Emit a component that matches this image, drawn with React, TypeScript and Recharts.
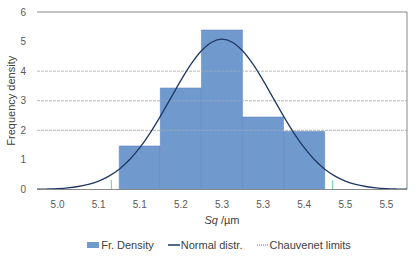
import React from 'react';
import { ComposedChart, Bar, Line, XAxis, YAxis, ReferenceLine, Legend } from 'recharts';

// Histogram categories (bin labels as shown) and frequency densities
const binLabels = ['5.0', '5.1', '5.1', '5.2', '5.3', '5.3', '5.4', '5.5', '5.5'];
const frDensity: (number | null)[] = [null, null, 1.47, 3.43, 5.39, 2.45, 1.96, null, null];

// Normal distribution curve (x in bin units from the left edge)
const curveX = [0, 0.25, 0.5, 0.75, 1, 1.25, 1.5, 1.75, 2, 2.25, 2.5, 2.75, 3, 3.25, 3.5, 3.75, 4, 4.25, 4.5,
  4.75, 5, 5.25, 5.5, 5.75, 6, 6.25, 6.5, 6.75, 7, 7.25, 7.5, 7.75, 8, 8.25, 8.5, 8.75, 9];
const curveY = [0.008, 0.016, 0.03, 0.056, 0.101, 0.173, 0.285, 0.452, 0.688, 1.005, 1.412, 1.907, 2.473, 3.081, 3.689, 4.243, 4.689, 4.979, 5.08,
  4.979, 4.689, 4.243, 3.689, 3.081, 2.473, 1.907, 1.412, 1.005, 0.688, 0.452, 0.285, 0.173, 0.101, 0.056, 0.03, 0.016, 0.008];

// Chauvenet limits
const chauvenetX = [1.81, 7.19];
const chauvenetTop = 0.32;

const yTicks = [0, 1, 2, 3, 4, 5, 6];
const gridValues = [2, 3, 4];
const boundaryTicks = [1, 3, 4, 6, 7, 9];
const xDomain: [number, number] = [0, 9];
const yDomain: [number, number] = [0, 6];
const legendLabels = ['Fr. Density', 'Normal distr.', 'Chauvenet limits'];

const BAR_COLOR = '#7099CE';
const LINE_COLOR = '#1F3864';
const GREEN = '#00B050';
const AXIS_COLOR = '#898989';

const barData = binLabels.map((label, i) => ({ label, density: frDensity[i] }));
const curveData = curveX.map((x, i) => ({ x, y: curveY[i] }));

const renderLegend = () => (
  <div
    style={{
      display: 'flex',
      justifyContent: 'center',
      alignItems: 'center',
      height: 20,
      lineHeight: '20px',
      paddingLeft: 31,
      fontSize: 11,
      color: '#404040',
      fontFamily: 'Liberation Sans, Arial, sans-serif',
    }}
  >
    {legendLabels.map((lab, i) => (
      <div key={lab} style={{ display: 'flex', alignItems: 'center', marginLeft: i === 0 ? 0 : 14 }}>
        <svg width={12} height={8} style={{ marginRight: i === 0 ? 2 : 1 }}>
          {i === 0 && <rect x={0} y={1} width={12} height={6} fill={BAR_COLOR} />}
          {i === 1 && <line x1={0} y1={4} x2={12} y2={4} stroke={LINE_COLOR} strokeWidth={1.5} />}
          {i === 2 && <line x1={0} y1={4} x2={12} y2={4} stroke={GREEN} strokeWidth={1.2} strokeDasharray="1 1" />}
        </svg>
        <span>{lab}</span>
      </div>
    ))}
  </div>
);

const SqLabel = (props: any) => {
  const vb = props.viewBox || {};
  return (
    <text
      x={vb.x + vb.width / 2}
      y={vb.y + 34.5}
      textAnchor="middle"
      fontSize={11}
      fill="#404040"
    >
      <tspan fontStyle="italic">Sq</tspan>
      <tspan> /µm</tspan>
    </text>
  );
};

export default function App() {
  return (
    <div style={{ position: 'absolute', left: 0, top: 0, fontFamily: 'Liberation Sans, Arial, sans-serif' }}>
      <ComposedChart
        width={420}
        height={262}
        data={barData}
        margin={{ top: 12, right: 13, left: 0, bottom: 7 }}
        barCategoryGap={0}
        barGap={0}
      >
        <XAxis
          xAxisId="num"
          dataKey="x"
          type="number"
          domain={xDomain}
          allowDataOverflow
          ticks={boundaryTicks}
          tick={false}
          tickSize={5}
          tickLine={{ stroke: AXIS_COLOR }}
          axisLine={false}
          height={0}
        />
        <XAxis
          xAxisId="cat"
          dataKey="label"
          interval={0}
          tickLine={false}
          tickSize={6}
          tickMargin={5}
          axisLine={{ stroke: AXIS_COLOR }}
          tick={{ fill: '#595959', fontSize: 10 }}
          height={45.5}
          label={{ content: SqLabel }}
        />
        <YAxis
          domain={yDomain}
          ticks={yTicks}
          interval={0}
          width={37}
          tickLine={false}
          axisLine={false}
          tickSize={4}
          tickMargin={7}
          tick={{ fill: '#595959', fontSize: 10 }}
          label={{
            value: 'Frequency density',
            angle: -90,
            position: 'insideLeft',
            offset: 11,
            style: { textAnchor: 'middle', fontSize: 11, fill: '#404040' },
          }}
        />
        {gridValues.map((v) => (
          <ReferenceLine key={v} xAxisId="num" y={v} stroke="#A6A6A6" strokeDasharray="3 1" strokeWidth={0.8} />
        ))}
        <ReferenceLine xAxisId="num" y={yDomain[1]} stroke={AXIS_COLOR} strokeWidth={1} />
        <ReferenceLine xAxisId="num" x={xDomain[1]} stroke={AXIS_COLOR} strokeWidth={1} />
        <Bar
          xAxisId="cat"
          dataKey="density"
          fill={BAR_COLOR}
          stroke="#6088C2"
          strokeWidth={0.6}
          isAnimationActive={false}
        />
        <Line
          xAxisId="num"
          data={curveData}
          dataKey="y"
          type="monotone"
          stroke={LINE_COLOR}
          strokeWidth={1.3}
          dot={false}
          activeDot={false}
          isAnimationActive={false}
        />
        {chauvenetX.map((cx) => (
          <ReferenceLine
            key={cx}
            xAxisId="num"
            segment={[{ x: cx, y: 0 }, { x: cx, y: chauvenetTop }]}
            stroke={GREEN}
            strokeWidth={1.2}
            strokeDasharray="1 1"
          />
        ))}
        <Legend verticalAlign="bottom" content={renderLegend} />
      </ComposedChart>
    </div>
  );
}
